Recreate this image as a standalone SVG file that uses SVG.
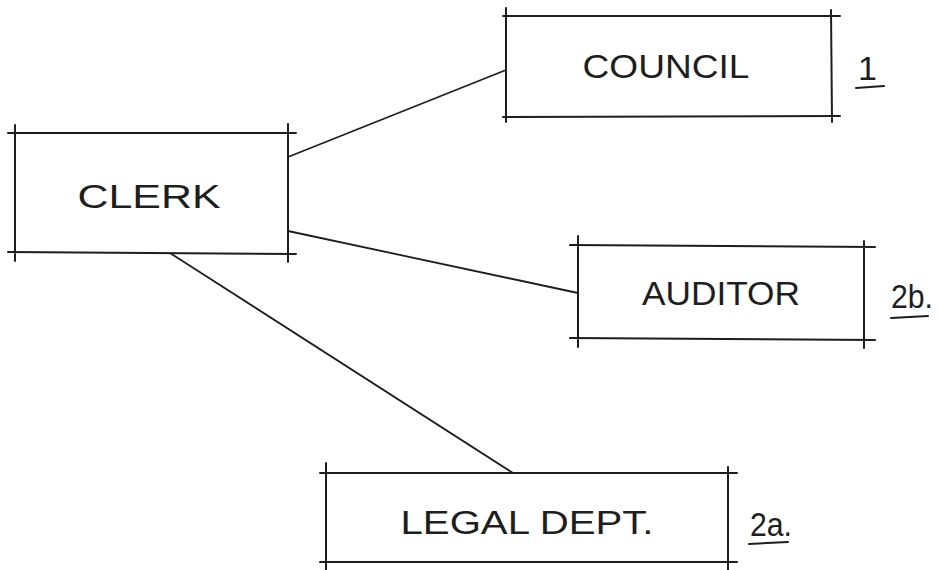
<svg xmlns="http://www.w3.org/2000/svg" width="940" height="570" viewBox="0 0 940 570">
<style>
.b{fill:none;stroke:#1e1e1e;stroke-width:2;stroke-linecap:round}
.c{fill:none;stroke:#1e1e1e;stroke-width:1.8}
.t{font-family:"Liberation Sans",Arial,sans-serif;font-size:34px;fill:#1e1e1e;text-anchor:middle}
.n{font-family:"Liberation Sans",Arial,sans-serif;font-size:34px;fill:#1e1e1e}
</style>
<rect width="940" height="570" fill="#fff"/>
<g id="connectors">
<line class="c" x1="288" y1="157" x2="506" y2="70"/>
<line class="c" x1="288" y1="231" x2="578" y2="293"/>
<line class="c" x1="170" y1="253" x2="513" y2="473"/>
</g>
<g id="clerk">
<path class="b" d="M8 133 L296 133 M8 252 L296 254 M15 125 L15 261 M288 124 L288 262"/>
<text class="t" x="149" y="208" textLength="143" lengthAdjust="spacingAndGlyphs">CLERK</text>
</g>
<g id="council">
<path class="b" d="M503 16 L840 16 M503 117 L840 116 M506 8 L506 122 M831 10 L832 122"/>
<text class="t" x="666" y="78" textLength="167" lengthAdjust="spacingAndGlyphs">COUNCIL</text>
<text class="n" x="858" y="80">1</text>
<path class="b" d="M856 88 L884 86"/>
</g>
<g id="auditor">
<path class="b" d="M570 245 L875 247 M570 338 L875 340 M578 236 L578 347 M864 241 L864 348"/>
<text class="t" x="721" y="305" textLength="158" lengthAdjust="spacingAndGlyphs">AUDITOR</text>
<text class="n" x="891" y="308" textLength="42" lengthAdjust="spacingAndGlyphs">2b.</text>
<path class="b" d="M891 318 L928 316"/>
</g>
<g id="legal">
<path class="b" d="M320 473 L737 473 M320 562 L737 562 M326 463 L326 570 M728 467 L728 570"/>
<text class="t" x="527" y="534" textLength="253" lengthAdjust="spacingAndGlyphs">LEGAL DEPT.</text>
<text class="n" x="750" y="536" textLength="42" lengthAdjust="spacingAndGlyphs">2a.</text>
<path class="b" d="M749 544 L788 542"/>
</g>
</svg>
